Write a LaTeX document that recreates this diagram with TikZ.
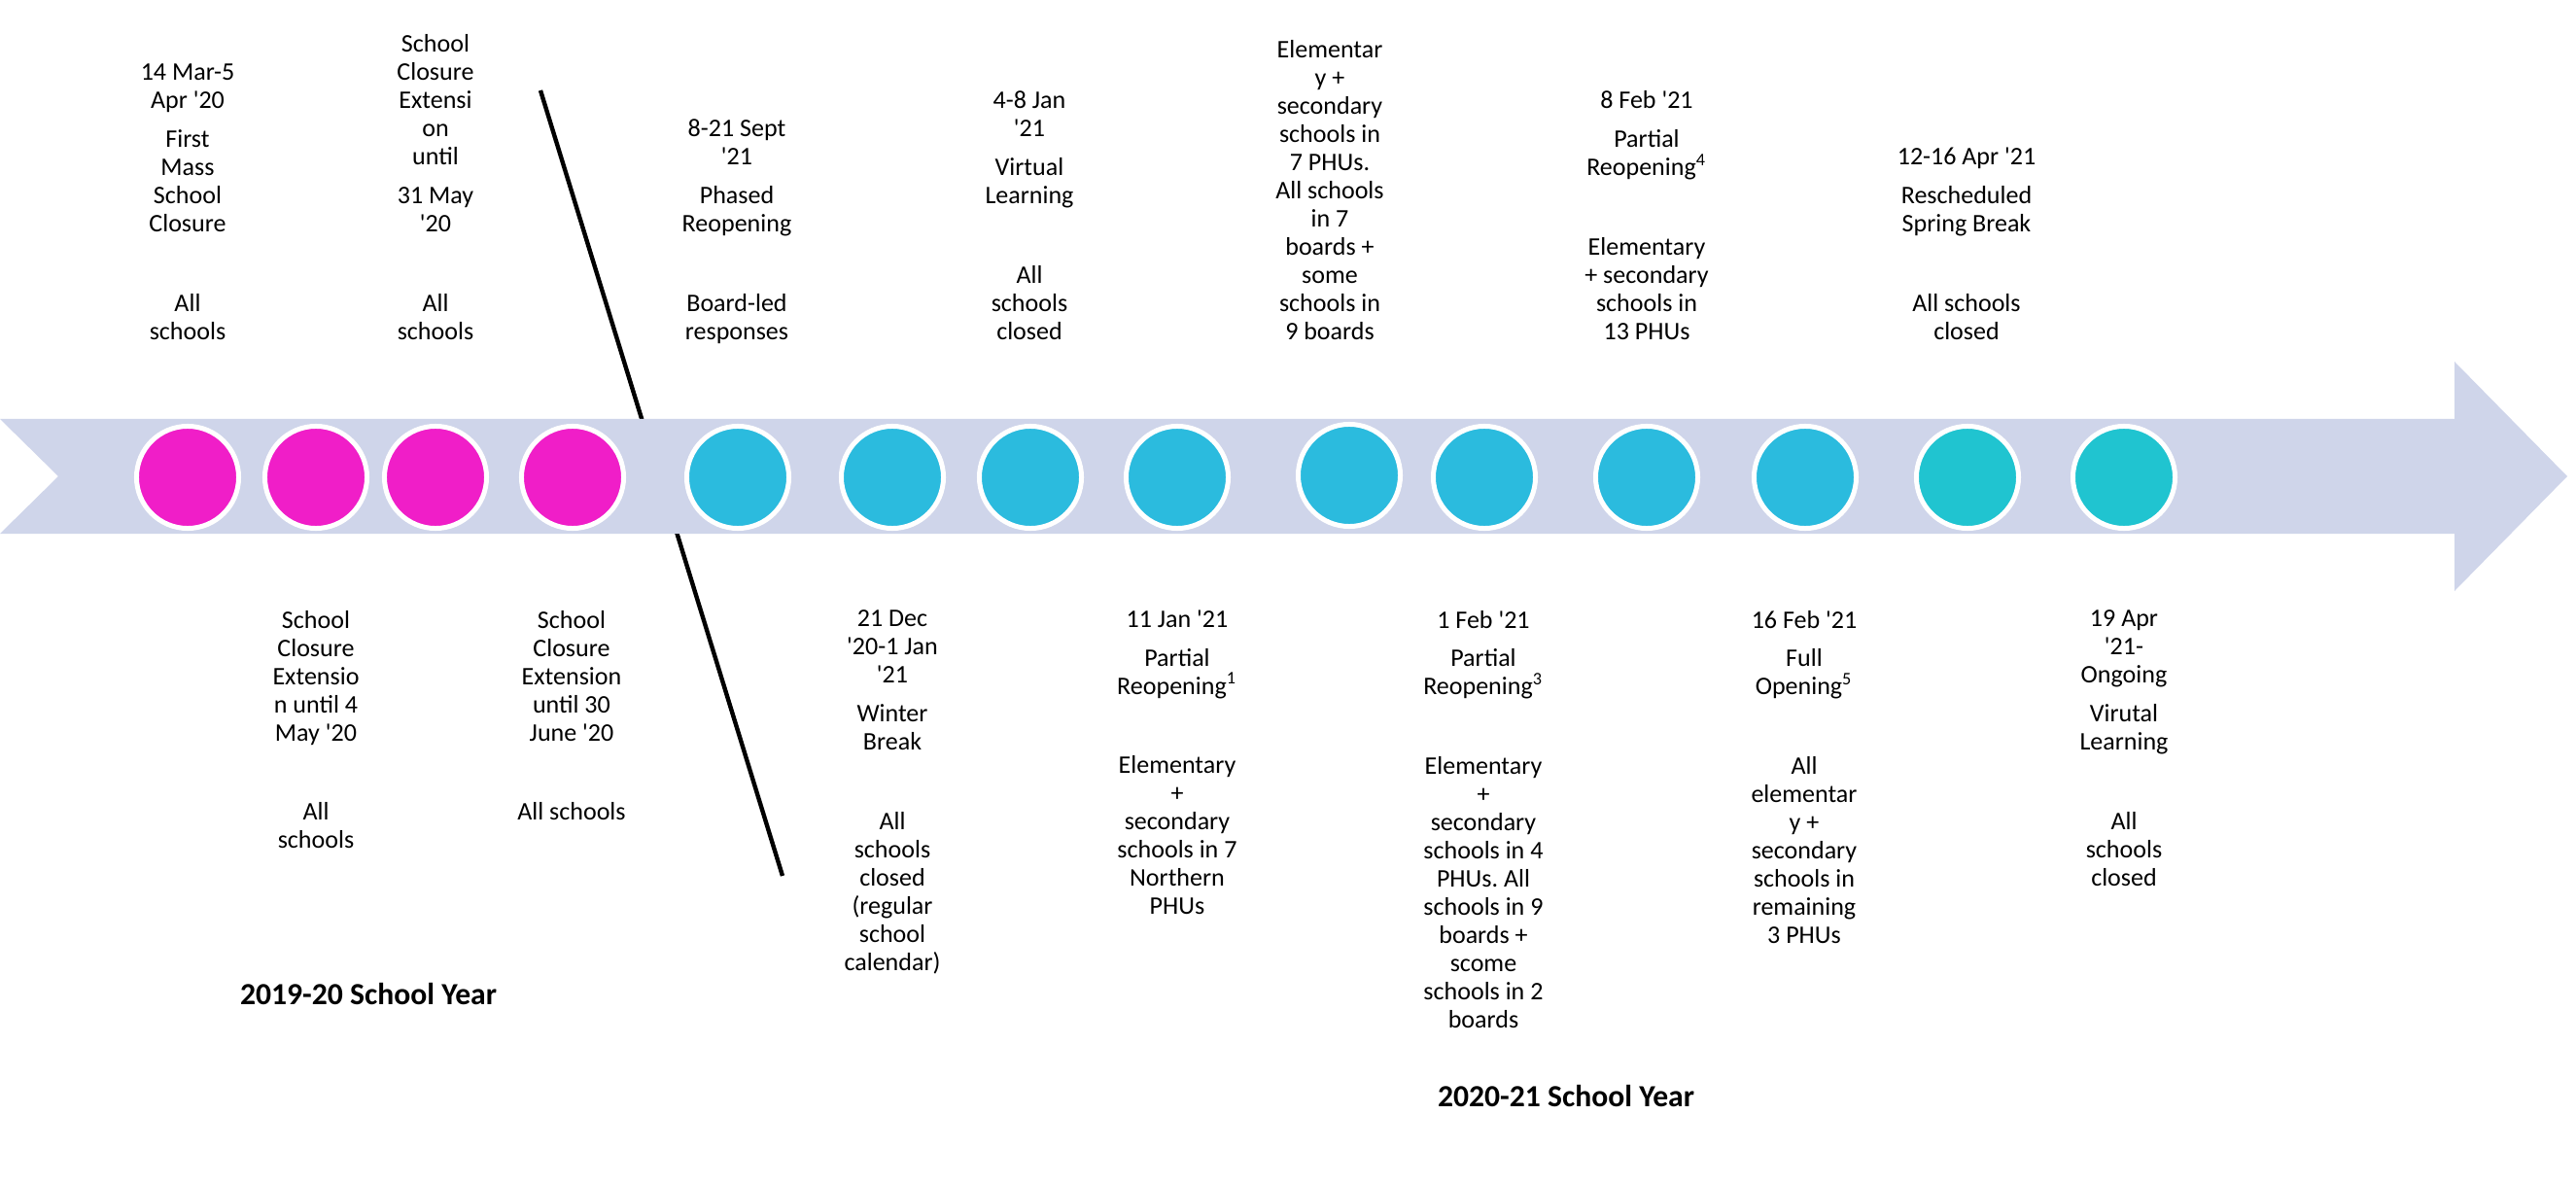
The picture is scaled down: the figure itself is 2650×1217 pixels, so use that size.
\documentclass[tikz,border=0pt]{standalone}
\usepackage{fontspec}
\setmainfont{Carlito}[Ligatures=TeXOff]
\frenchspacing
\definecolor{bandblue}{RGB}{207,213,234}
\definecolor{closepink}{RGB}{240,30,200}
\definecolor{openblue}{RGB}{43,187,222}
\definecolor{springteal}{RGB}{32,196,208}

\begin{document}
\begin{tikzpicture}[%
      x=0.01cm, y=0.01cm,
      dot/.style={circle, draw=white, line width=1.42pt, minimum size=1.05cm, inner sep=0pt},
      txt/.style={align=center, inner sep=0pt, outer sep=0pt,
        font=\fontsize{7.4}{8.25}\selectfont,
        execute at begin node=\strut, execute at end node=\strut},
      uptext/.style={txt, anchor=south},
      downtext/.style={txt, anchor=north},
      yearhead/.style={font=\fontsize{9}{11}\selectfont\bfseries, inner sep=0pt},
      ]
      \useasboundingbox (0,0) rectangle (2650,1217);

      % year divider, partly hidden by the band
      \coordinate (divtop) at (556,1124);
      \coordinate (divbot) at (805,316);
      \draw[color=black, line width=1.25pt] (divtop) -- (divbot);

      % timeline band
      \fill[bandblue] (0,786) -- (2525,786) -- (2525,845) -- (2641,727)
        -- (2525,609) -- (2525,668) -- (0,668) -- (60,727) -- cycle;

      % 2019-20 events
      \node[dot, fill=closepink] (d1) at (193,726) {};
      \node[dot, fill=closepink] (d2) at (325,726) {};
      \node[dot, fill=closepink] (d3) at (448,726) {};
      \node[dot, fill=closepink] (d4) at (589,726) {};
      % 2020-21 events
      \node[dot, fill=openblue] (d5) at (759,726) {};
      \node[dot, fill=openblue] (d6) at (918,726) {};
      \node[dot, fill=openblue] (d7) at (1060,726) {};
      \node[dot, fill=openblue] (d8) at (1211,726) {};
      \node[dot, fill=openblue] (d9) at (1388,728) {};
      \node[dot, fill=openblue] (d10) at (1527,726) {};
      \node[dot, fill=openblue] (d11) at (1694,726) {};
      \node[dot, fill=openblue] (d12) at (1857,726) {};
      \node[dot, fill=springteal] (d13) at (2024,726) {};
      \node[dot, fill=springteal] (d14) at (2185,726) {};

      % labels above the band
      \node[uptext] (t1) at (193,859) {14 Mar-5\\Apr '20\\[3.1pt]First\\Mass\\School\\Closure\\[14.9pt]All\\schools};
      \node[uptext] (t3) at (448,859) {School\\Closure\\Extensi\\on\\until\\[3.1pt]31 May\\'20\\[14.9pt]All\\schools};
      \node[uptext] (t5) at (758,859) {8-21 Sept\\'21\\[3.1pt]Phased\\Reopening\\[14.9pt]Board-led\\responses};
      \node[uptext] (t7) at (1059,859) {4-8 Jan\\'21\\[3.1pt]Virtual\\Learning\\[14.9pt]All\\schools\\closed};
      \node[uptext] (t9) at (1368,859) {Elementar\\y +\\secondary\\schools in\\7 PHUs.\\All schools\\in 7\\boards +\\some\\schools in\\9 boards};
      \node[uptext] (t11) at (1694,859) {8 Feb '21\\[3.1pt]Partial\\Reopening\textsuperscript{4}\\[14.9pt]Elementary\\+ secondary\\schools in\\13 PHUs};
      \node[uptext] (t13) at (2023,859) {12-16 Apr '21\\[3.1pt]Rescheduled\\Spring Break\\[14.9pt]All schools\\closed};

      % labels below the band
      \node[downtext] (t2) at (325,589) {School\\Closure\\Extensio\\n until 4\\May '20\\[14.9pt]All\\schools};
      \node[downtext] (t4) at (588,589) {School\\Closure\\Extension\\until 30\\June '20\\[14.9pt]All schools};
      \node[downtext] (t6) at (918,589) {21 Dec\\'20-1 Jan\\'21\\[3.1pt]Winter\\Break\\[14.9pt]All\\schools\\closed\\(regular\\school\\calendar)};
      \node[downtext] (t8) at (1211,589) {11 Jan '21\\[3.1pt]Partial\\Reopening\textsuperscript{1}\\[14.9pt]Elementary\\+\\secondary\\schools in 7\\Northern\\PHUs};
      \node[downtext] (t10) at (1526,589) {1 Feb '21\\[3.1pt]Partial\\Reopening\textsuperscript{3}\\[14.9pt]Elementary\\+\\secondary\\schools in 4\\PHUs. All\\schools in 9\\boards +\\scome\\schools in 2\\boards};
      \node[downtext] (t12) at (1856,589) {16 Feb '21\\[3.1pt]Full\\Opening\textsuperscript{5}\\[14.9pt]All\\elementar\\y +\\secondary\\schools in\\remaining\\3 PHUs};
      \node[downtext] (t14) at (2185,589) {19 Apr\\'21-\\Ongoing\\[3.1pt]Virutal\\Learning\\[14.9pt]All\\schools\\closed};

      % school year headings
      \node[yearhead] (y1) at (379,194) {2019-20 School Year};
      \node[yearhead] (y2) at (1611,89) {2020-21 School Year};
\end{tikzpicture}
\end{document}
